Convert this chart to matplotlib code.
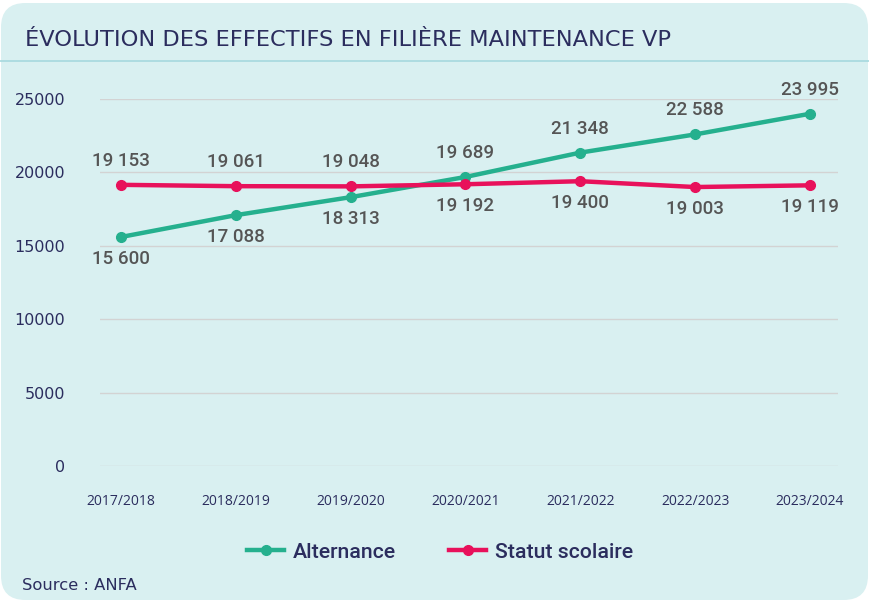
import matplotlib.pyplot as plt
from matplotlib.patches import FancyBboxPatch
from matplotlib.lines import Line2D

# data
years = ["2017/2018", "2018/2019", "2019/2020", "2020/2021", "2021/2022", "2022/2023", "2023/2024"]
alternance = [15600, 17088, 18313, 19689, 21348, 22588, 23995]
statut = [19153, 19061, 19048, 19192, 19400, 19003, 19119]
yticks = [0, 5000, 10000, 15000, 20000, 25000]

# label above (True) or below (False) the point
alt_above = [False, False, False, True, True, True, True]
stat_above = [True, True, True, False, False, False, False]

green = "#25b08e"
pink = "#e8115b"
navy = "#2b2d5e"
bg = "#d9f0f1"
label_col = "#555555"

W, H = 870, 601
fig = plt.figure(figsize=(W / 100, H / 100), dpi=100)
fig.patch.set_facecolor("white")

box = FancyBboxPatch((1 / W, 1 / H), 867 / W, 597 / H,
                     boxstyle="round,pad=0,rounding_size=0.028",
                     transform=fig.transFigure, facecolor=bg, edgecolor="none",
                     mutation_aspect=W / H, zorder=-5)
fig.patches.append(box)

fig.text(25 / W, 1 - 40 / H, "ÉVOLUTION DES EFFECTIFS EN FILIÈRE MAINTENANCE VP",
         fontsize=16.2, color=navy, family="DejaVu Sans", va="center", ha="left")
fig.add_artist(Line2D([0, 1], [1 - 61 / H, 1 - 61 / H], transform=fig.transFigure,
                      color="#a6d9de", lw=1.2))

ax = fig.add_axes([100 / W, (H - 466) / H, 738 / W, 367 / H])
ax.set_facecolor("none")
x = list(range(len(years)))
ax.plot(x, alternance, color=green, lw=3.2, marker="o", ms=7, label="Alternance", zorder=3)
ax.plot(x, statut, color=pink, lw=3.2, marker="o", ms=7, label="Statut scolaire", zorder=3)

ax.set_xlim(-0.183, 6.244)
ax.set_ylim(0, 25000)
ax.set_yticks(yticks)
ax.set_yticklabels([str(v) for v in yticks], family="DejaVu Sans", fontsize=11.5, color=navy)
ax.set_xticks(x)
ax.set_xticklabels(years, family="Open Sans", fontsize=10, color=navy)
ax.tick_params(axis="y", length=0, pad=25)
ax.tick_params(axis="x", length=0, pad=20)
ax.grid(axis="y", color="#d3d3d3", lw=1)
ax.set_axisbelow(True)
for s in ax.spines.values():
    s.set_visible(False)


def fmt(v):
    return f"{v:,}".replace(",", " ")


for i in x:
    for val, above in ((alternance[i], alt_above[i]), (statut[i], stat_above[i])):
        ax.annotate(fmt(val), (i, val), xytext=(0, 24 if above else -22),
                    textcoords="offset pixels", ha="center", va="center",
                    fontsize=13.5, color=label_col, family="Roboto",
                    fontweight="medium", annotation_clip=False)

leg = fig.legend(loc="center", bbox_to_anchor=(440 / W, 1 - 552 / H), ncol=2,
                 frameon=False, handlelength=1.74, handletextpad=0.38, columnspacing=2.54,
                 prop={"family": "Roboto", "weight": "medium", "size": 15.3})
for t in leg.get_texts():
    t.set_color(navy)

fig.text(22 / W, 1 - 585 / H, "Source : ANFA", fontsize=11.8, color=navy,
         family="DejaVu Sans", va="center", ha="left")

fig.savefig("out.png", dpi=100, facecolor=fig.get_facecolor())
